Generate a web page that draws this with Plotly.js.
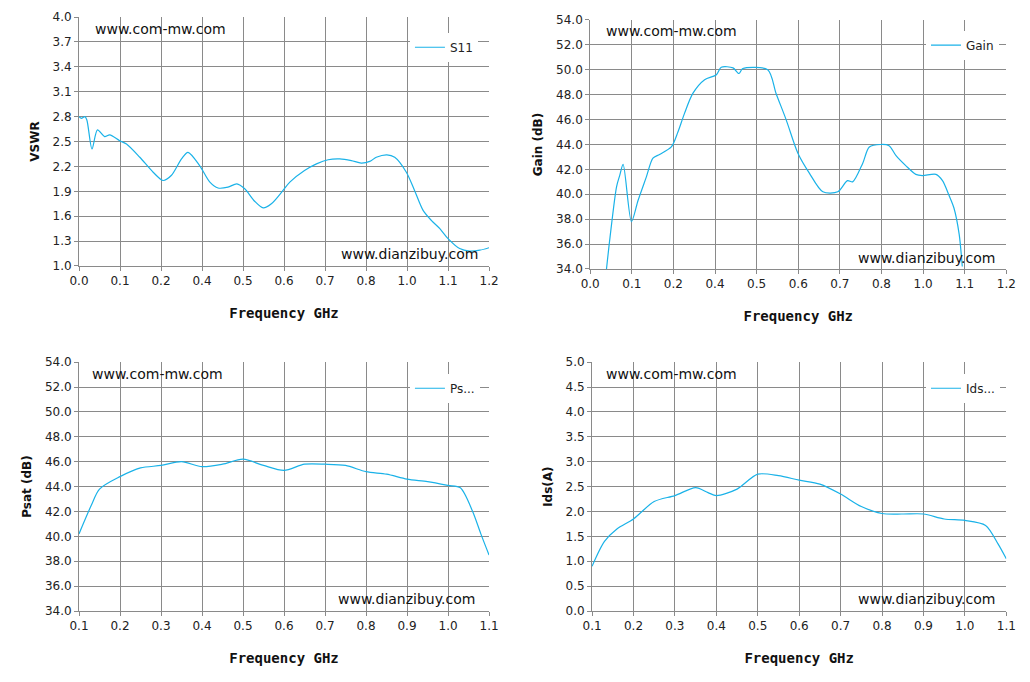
<!DOCTYPE html>
<html>
<head>
<meta charset="utf-8">
<script src="https://cdn.plot.ly/plotly-3.0.1.min.js"></script>
<style>body{margin:0;background:#fff}#chart{width:1030px;height:682px}</style>
</head>
<body>
<div id="chart"></div>
<script>
// S11 VSWR
var s11F = [0,0.007,0.017,0.023,0.038,0.054,0.075,0.09,0.119,0.139,0.178,0.217,0.246,0.27,0.3,0.319,0.353,0.383,0.407,0.436,0.462,0.485,0.514,0.539,0.563,0.597,0.617,0.66,0.695,0.729,0.763,0.797,0.826,0.851,0.87,0.901,0.924,0.958,0.982,1.007,1.031,1.056,1.08,1.114,1.143,1.173,1.2];
var s11V = [2.8,2.78,2.8,2.76,2.41,2.64,2.56,2.58,2.51,2.47,2.31,2.13,2.03,2.09,2.29,2.37,2.21,2.01,1.94,1.95,1.99,1.93,1.78,1.7,1.75,1.91,2.01,2.15,2.23,2.28,2.29,2.27,2.24,2.26,2.31,2.34,2.31,2.13,1.91,1.67,1.55,1.45,1.33,1.21,1.18,1.19,1.22];
// gain
var gainF = [0.047,0.057,0.076,0.085,0.095,0.119,0.138,0.162,0.181,0.2,0.234,0.253,0.272,0.296,0.33,0.364,0.378,0.412,0.429,0.44,0.512,0.536,0.565,0.599,0.632,0.671,0.714,0.742,0.757,0.786,0.805,0.838,0.862,0.882,0.91,0.939,0.958,0.997,1.016,1.035,1.049,1.064,1.073];
var gainV = [34,36.5,40.6,41.5,42.4,37.8,39.5,41.4,42.9,43.2,43.8,45.0,46.5,48.1,49.2,49.6,50.2,50.15,49.7,50.1,50.0,48.1,46.0,43.3,41.7,40.2,40.2,41.1,41.0,42.5,43.8,44.0,43.9,43.1,42.3,41.6,41.5,41.6,41.1,39.9,38.9,36.8,34.2];
// saturated power
var psatF = [0.1,0.13,0.15,0.2,0.25,0.3,0.35,0.4,0.45,0.5,0.55,0.6,0.65,0.7,0.75,0.8,0.85,0.9,0.95,1.0,1.03,1.06,1.08,1.1];
var psatV = [40.2,42.5,43.8,44.8,45.5,45.7,46.0,45.6,45.8,46.2,45.7,45.3,45.8,45.8,45.7,45.2,45.0,44.6,44.4,44.1,43.9,42,40.2,38.5];
// drain current
var idsF = [0.1,0.13,0.16,0.2,0.25,0.3,0.35,0.38,0.4,0.45,0.5,0.55,0.6,0.65,0.7,0.75,0.8,0.85,0.9,0.95,1.0,1.05,1.08,1.1];
var idsV = [0.9,1.4,1.65,1.85,2.2,2.32,2.48,2.38,2.32,2.45,2.75,2.72,2.63,2.55,2.35,2.1,1.96,1.95,1.95,1.85,1.82,1.72,1.35,1.05];

var lineC = '#1ab2e8';
function tr(x, y, name, n) {
  return {x: x, y: y, name: name, type: 'scatter', mode: 'lines', line: {color: lineC, width: 1.2, shape: 'spline', smoothing: 0.8},
    xaxis: 'x' + (n > 1 ? n : ''), yaxis: 'y' + (n > 1 ? n : ''), legend: 'legend' + (n > 1 ? n : ''), showlegend: true};
}
var tickF = {family: 'DejaVu Sans', size: 12, color: '#222'};
var xt = {text: 'Frequency GHz', font: {family: 'DejaVu Sans Mono', size: 14, color: '#111', weight: 'bold'}, standoff: 20};
function xa(dom, r, t0, dt, anchor) {
  return {domain: dom, range: r, dtick: dt, tick0: t0, tickformat: '.1f', anchor: anchor, showgrid: true, gridcolor: '#8a8a8a',
    showline: true, linecolor: '#8a8a8a', ticks: 'outside', ticklen: 4, tickcolor: '#8a8a8a', tickfont: tickF, title: xt, zeroline: false};
}
function ya(dom, r, dt, anchor, t) {
  return {domain: dom, range: r, dtick: dt, tick0: r[0], tickformat: '.1f', anchor: anchor, showgrid: true, gridcolor: '#8a8a8a',
    showline: true, linecolor: '#8a8a8a', ticks: 'outside', ticklen: 4, tickcolor: '#8a8a8a', tickfont: tickF, zeroline: false,
    title: {text: t, font: {family: 'DejaVu Sans', size: 12, color: '#111', weight: 'bold'}, standoff: 10}};
}
function lg(x, y) {
  return {x: x, y: y, xanchor: 'left', yanchor: 'top', bgcolor: '#fff', borderwidth: 0, font: {family: 'DejaVu Sans', size: 12, color: '#222'}, itemwidth: 30};
}
function wm(text, x, y, xa_) {
  return {text: text, xref: 'paper', yref: 'paper', x: x, y: y, xanchor: xa_, yanchor: 'middle', showarrow: false, font: {family: 'DejaVu Sans', size: 14, color: '#111'}};
}
var data = [tr(s11F, s11V, 'S11', 1), tr(gainF, gainV, 'Gain', 2), tr(psatF, psatV, 'Ps...', 3), tr(idsF, idsV, 'Ids...', 4)];
var layout = {
  width: 1030, height: 682, margin: {l: 0, r: 0, t: 0, b: 0}, paper_bgcolor: '#fff', plot_bgcolor: '#fff',
  xaxis: xa([0.0767, 0.4748], [0, 1.2], 0, 0.12, 'y'),
  yaxis: ya([0.610, 0.975], [1.0, 4.0], 0.3, 'x', 'VSWR'),
  xaxis2: xa([0.573, 0.977], [0, 1.2], 0, 0.12, 'y2'),
  yaxis2: ya([0.6056, 0.9707], [34, 54], 2, 'x2', 'Gain (dB)'),
  xaxis3: xa([0.0767, 0.4748], [0.1, 1.1], 0.1, 0.1, 'y3'),
  yaxis3: ya([0.104, 0.469], [34, 54], 2, 'x3', 'Psat (dB)'),
  xaxis4: xa([0.5748, 0.977], [0.1, 1.1], 0.1, 0.1, 'y4'),
  yaxis4: ya([0.104, 0.469], [0, 5], 0.5, 'x4', 'Ids(A)'),
  legend: lg(0.398, 0.952),
  legend2: lg(0.899, 0.955),
  legend3: lg(0.398, 0.452),
  legend4: lg(0.899, 0.452),
  annotations: [
    wm('www.com-mw.com', 0.09, 0.958, 'left'),
    wm('www.dianzibuy.com', 0.466, 0.627, 'right'),
    wm('www.com-mw.com', 0.586, 0.954, 'left'),
    wm('www.dianzibuy.com', 0.968, 0.622, 'right'),
    wm('www.com-mw.com', 0.087, 0.451, 'left'),
    wm('www.dianzibuy.com', 0.463, 0.122, 'right'),
    wm('www.com-mw.com', 0.586, 0.451, 'left'),
    wm('www.dianzibuy.com', 0.968, 0.122, 'right')
  ]
};
Plotly.newPlot('chart', data, layout, {staticPlot: true});
</script>
</body>
</html>
